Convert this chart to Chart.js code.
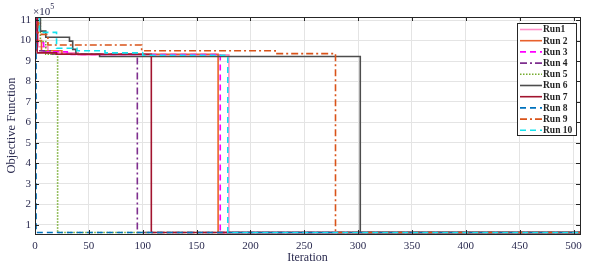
<!DOCTYPE html>
<html>
<head>
<meta charset="utf-8">
<script src="https://cdn.jsdelivr.net/npm/chart.js@4.4.0/dist/chart.umd.min.js"></script>
<style>
html,body{margin:0;padding:0;background:#fff;}
#wrap{width:589px;height:265px;position:relative;}
</style>
</head>
<body>
<div id="wrap"><canvas id="c" width="589" height="265"></canvas></div>
<script>
// ---- data (objective function, x10^5) ----
const runLabels = ['Run1','Run 2','Run 3','Run 4','Run 5','Run 6','Run 7','Run 8','Run 9','Run 10'];
const xTicks = [0,50,100,150,200,250,300,350,400,450,500];
const yTicks = [1,2,3,4,5,6,7,8,9,10,11];

const run1Iter  = [0, 3, 12, 40, 180, 506];
const run1Val   = [11.5, 9.70, 9.40, 9.30, 0.62, 0.62];
const run2Iter  = [0, 2, 6, 25, 170, 506];
const run2Val   = [11.5, 10.0, 9.50, 9.33, 0.62, 0.62];
const run3Iter  = [0, 2, 8, 30, 172, 506];
const run3Val   = [11.5, 9.90, 9.45, 9.32, 0.62, 0.62];
const run4Iter  = [0, 1, 15, 95, 506];
const run4Val   = [11.5, 9.50, 9.33, 0.62, 0.62];
const run5Iter  = [0, 5, 10, 21, 506];
const run5Val   = [11.5, 9.95, 9.33, 0.62, 0.62];
const run6Iter  = [0, 5, 10, 32, 35, 38, 60, 302, 506];
const run6Val   = [11.5, 10.46, 10.16, 9.97, 9.57, 9.33, 9.22, 0.62, 0.62];
const run7Iter  = [0, 2, 20, 108, 506];
const run7Val   = [11.5, 9.40, 9.33, 0.62, 0.62];
const run8Iter  = [0, 1, 506];
const run8Val   = [10.3, 0.62, 0.62];
const run9Iter  = [0, 3, 12, 99, 223, 279, 506];
const run9Val   = [11.5, 10.3, 9.78, 9.50, 9.36, 0.62, 0.62];
const run10Iter = [0, 4, 20, 39, 65, 100, 179, 506];
const run10Val  = [11.5, 10.4, 9.62, 9.50, 9.40, 9.28, 0.62, 0.62];

const iters = [run1Iter,run2Iter,run3Iter,run4Iter,run5Iter,run6Iter,run7Iter,run8Iter,run9Iter,run10Iter];
const vals  = [run1Val,run2Val,run3Val,run4Val,run5Val,run6Val,run7Val,run8Val,run9Val,run10Val];

const styles = [
  {c:'#FF8FC8', d:[]},
  {c:'#E8612C', d:[]},
  {c:'#FF00FF', d:[6,4]},
  {c:'#7E2F8E', d:[7,3,2,3]},
  {c:'#77AC30', d:[1.5,1.5]},
  {c:'#4D4D4D', d:[]},
  {c:'#A2142F', d:[]},
  {c:'#0072BD', d:[6,4]},
  {c:'#D95319', d:[7,3,2,3]},
  {c:'#12E2EE', d:[6,4]}
];

const datasets = runLabels.map((lab,i)=>({
  label: lab,
  data: iters[i].map((x,k)=>({x:x, y:vals[i][k]})),
  borderColor: styles[i].c,
  backgroundColor: styles[i].c,
  borderDash: styles[i].d,
  borderWidth: 1.6,
  pointRadius: 0,
  stepped: 'before',
  fill: false
}));
datasets.forEach((d,i)=>{ d.order = 10 - i; });

const serif = "'Liberation Serif', 'Times New Roman', serif";
const tickColor = '#2b2b50';

const boxPlugin = {
  id: 'boxPlugin',
  afterDatasetsDraw(chart){
    const {ctx, chartArea:a, scales} = chart;
    ctx.save();
    ctx.strokeStyle = '#262626';
    ctx.lineWidth = 1;
    ctx.beginPath();
    xTicks.forEach(t=>{
      const px = Math.round(scales.x.getPixelForValue(t))+0.5;
      ctx.moveTo(px, a.bottom); ctx.lineTo(px, a.bottom-4);
      ctx.moveTo(px, a.top); ctx.lineTo(px, a.top+4);
    });
    yTicks.forEach(t=>{
      const py = Math.round(scales.y.getPixelForValue(t))+0.5;
      ctx.moveTo(a.left, py); ctx.lineTo(a.left+4, py);
      ctx.moveTo(a.right, py); ctx.lineTo(a.right-4, py);
    });
    ctx.stroke();
    ctx.strokeRect(Math.round(a.left)+0.5, Math.round(a.top)+0.5, Math.round(a.right-a.left), Math.round(a.bottom-a.top));
    // exponent label
    ctx.fillStyle = tickColor;
    ctx.font = "11px " + serif;
    ctx.textBaseline = 'alphabetic';
    ctx.textAlign = 'left';
    ctx.fillText('\u00d710', a.left-2, 15);
    const w = ctx.measureText('\u00d710').width;
    ctx.font = "8px " + serif;
    ctx.fillText('5', a.left-2+w, 9);
    // legend
    const lx = 517, ly = 23, lw = 59, lh = 112;
    ctx.fillStyle = '#ffffff';
    ctx.fillRect(lx, ly, lw, lh);
    ctx.strokeStyle = '#262626';
    ctx.lineWidth = 1;
    ctx.strokeRect(lx+0.5, ly+0.5, lw, lh);
    chart.data.datasets.forEach((ds,i)=>{
      const y = 29.5 + i*11.2;
      ctx.strokeStyle = ds.borderColor;
      ctx.lineWidth = 1.6;
      ctx.setLineDash(ds.borderDash || []);
      ctx.beginPath();
      ctx.moveTo(520, y); ctx.lineTo(542, y);
      ctx.stroke();
      ctx.setLineDash([]);
      ctx.fillStyle = '#222';
      ctx.font = "bold 9.5px " + serif;
      ctx.textBaseline = 'middle';
      ctx.fillText(ds.label, 543, y+0.5);
    });
    ctx.restore();
  }
};

new Chart(document.getElementById('c'), {
  type: 'line',
  data: { datasets },
  options: {
    responsive: false,
    animation: false,
    layout: { padding: { left: 0, top: 17, right: 9, bottom: 0 } },
    plugins: { legend: { display: false }, tooltip: { enabled: false } },
    scales: {
      x: {
        type: 'linear', min: 0, max: 506,
        afterFit(s){ s.height = 31; },
        afterBuildTicks(s){ s.ticks = xTicks.map(v=>({value:v})); },
        grid: { color: '#e4e4e4', drawTicks: false, lineWidth: 1 },
        border: { display: true, color: '#262626', width: 1 },
        ticks: { color: tickColor, padding: 6, font: { family: serif, size: 11 }, maxRotation: 0 },
        title: { display: true, text: 'Iteration', color: tickColor, font: { family: serif, size: 12 }, padding: { top: 0, bottom: 0 } }
      },
      y: {
        type: 'linear', min: 0.55, max: 11.15,
        afterFit(s){ s.width = 35; },
        afterBuildTicks(s){ s.ticks = yTicks.map(v=>({value:v})); },
        grid: { color: '#e4e4e4', drawTicks: false, lineWidth: 1 },
        border: { display: true, color: '#262626', width: 1 },
        ticks: { color: tickColor, padding: 4, font: { family: serif, size: 11 } },
        title: { display: true, text: 'Objective Function', color: tickColor, font: { family: serif, size: 12.5 }, padding: { top: 4, bottom: 0 } }
      }
    }
  },
  plugins: [boxPlugin]
});
</script>
</body>
</html>
